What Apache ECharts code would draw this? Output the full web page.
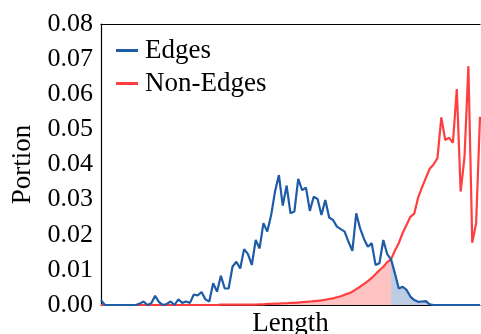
<!DOCTYPE html>
<html>
<head>
<meta charset="utf-8">
<script src="https://cdn.jsdelivr.net/npm/echarts@6/dist/echarts.min.js"></script>
<style>html,body{margin:0;padding:0;background:#fff}#c{width:481px;height:334px}</style>
</head>
<body>
<div id="c"></div>
<script>
const edges = [0.0014,0,0,0,0,0,0,0,0,0,
  0.0004,0.001,0,0.0005,0.0026,0.0008,0,0.0003,0.001,0,
  0.0016,0.0006,0.001,0.0006,0.003,0.0027,0.0037,0.0016,0.001,0.0062,
  0.0038,0.0083,0.0047,0.0047,0.0109,0.0123,0.0104,0.0159,0.0145,0.0114,
  0.0185,0.0161,0.0233,0.0209,0.0256,0.0323,0.037,0.0283,0.034,0.0261,
  0.0266,0.0359,0.0327,0.0334,0.0268,0.0308,0.0302,0.0256,0.0299,0.0249,
  0.0242,0.0223,0.0216,0.0209,0.018,0.0154,0.0261,0.0218,0.0188,0.0166,
  0.0176,0.0114,0.0119,0.0185,0.0145,0.013,0.009,0.0047,0.0052,0.0043,
  0.0024,0.0014,0.0009,0.001,0.0011,0.0002,0,0,0,0,
  0,0,0,0,0,0,0,0,0];
const nonEdges = [0,0,0,0,0,0,0,0,0,0,
  0,0,0,0,0,0,0,0,0,0,
  0,0,0,0,0,0,0,0,0,0,
  0,0.0001,0.0001,0.0001,0.0001,0.0001,0.0001,0.0001,0.0001,0.0001,
  0.0001,0.0002,0.0002,0.0003,0.0003,0.0004,0.0004,0.0005,0.0005,0.0006,
  0.0006,0.0007,0.0008,0.0009,0.001,0.0011,0.0012,0.0013,0.0015,0.0017,
  0.0019,0.0022,0.0025,0.0029,0.0033,0.0038,0.0045,0.0052,0.006,0.0068,
  0.0077,0.0088,0.0099,0.0109,0.0122,0.013,0.0155,0.0176,0.0205,0.0228,
  0.0251,0.026,0.0306,0.0335,0.0362,0.0388,0.04,0.0418,0.0534,0.047,
  0.0476,0.0462,0.0615,0.0323,0.0422,0.068,0.0177,0.0233,0.0536];
const categories = edges.map((_, i) => String(i));
const crossIndex = 75;
const yTicks = ['0.00','0.01','0.02','0.03','0.04','0.05','0.06','0.07','0.08'];

const FONT = '"Liberation Serif", "DejaVu Serif", serif';
const chart = echarts.init(document.getElementById('c'), null, {renderer: 'canvas'});
chart.setOption({
  animation: false,
  backgroundColor: '#fff',
  grid: {left: 101, top: 24, right: 1, bottom: 29, containLabel: false, outerBoundsMode: 'none'},
  legend: {
    data: ['Edges', 'Non-Edges'],
    orient: 'vertical',
    left: 116, top: 37, padding: 0,
    itemWidth: 22, itemHeight: 3, itemGap: 6,
    icon: 'rect',
    textStyle: {fontFamily: FONT, fontSize: 27, color: '#000', lineHeight: 26, padding: [0,0,0,2]}
  },
  xAxis: [{
    type: 'category', data: categories, boundaryGap: false,
    axisLine: {show: true, lineStyle: {color: '#000', width: 1.2}},
    axisTick: {show: false}, axisLabel: {show: false}, splitLine: {show: false},
    name: 'Length', nameLocation: 'middle', nameGap: 5,
    nameTextStyle: {fontFamily: FONT, fontSize: 27, color: '#000', verticalAlign: 'top'}
  }, {
    type: 'category', data: categories, boundaryGap: false, position: 'top',
    axisLine: {show: true, lineStyle: {color: '#000', width: 1.2}},
    axisTick: {show: false}, axisLabel: {show: false}
  }],
  yAxis: {
    type: 'value', min: 0, max: 0.08, interval: 0.01,
    axisLine: {show: true, lineStyle: {color: '#000', width: 1.2}},
    axisTick: {show: false}, splitLine: {show: false},
    axisLabel: {fontFamily: FONT, fontSize: 26, color: '#000', margin: 8,
      formatter: (v) => yTicks[Math.round(v / 0.01)]},
    name: 'Portion', nameLocation: 'middle', nameGap: 65,
    nameTextStyle: {fontFamily: FONT, fontSize: 27, color: '#000'}
  },
  series: [
    {name: 'redFill', type: 'line', data: nonEdges.map((v, i) => i <= crossIndex ? v : '-'),
     symbol: 'none', lineStyle: {width: 0, opacity: 0}, areaStyle: {color: '#ffc2c2', opacity: 1}, z: 1, silent: true},
    {name: 'blueFill', type: 'line', data: edges.map((v, i) => i >= crossIndex ? v : '-'),
     symbol: 'none', lineStyle: {width: 0, opacity: 0}, areaStyle: {color: '#bccde3', opacity: 1}, z: 1, silent: true},
    {name: 'Non-Edges', type: 'line', data: nonEdges, symbol: 'none',
     lineStyle: {color: '#ff3f3f', width: 2.2}, itemStyle: {color: '#ff3f3f'}, z: 3},
    {name: 'Edges', type: 'line', data: edges, symbol: 'none',
     lineStyle: {color: '#1f5ca6', width: 2.2}, itemStyle: {color: '#1f5ca6'}, z: 4}
  ]
});
</script>
</body>
</html>
